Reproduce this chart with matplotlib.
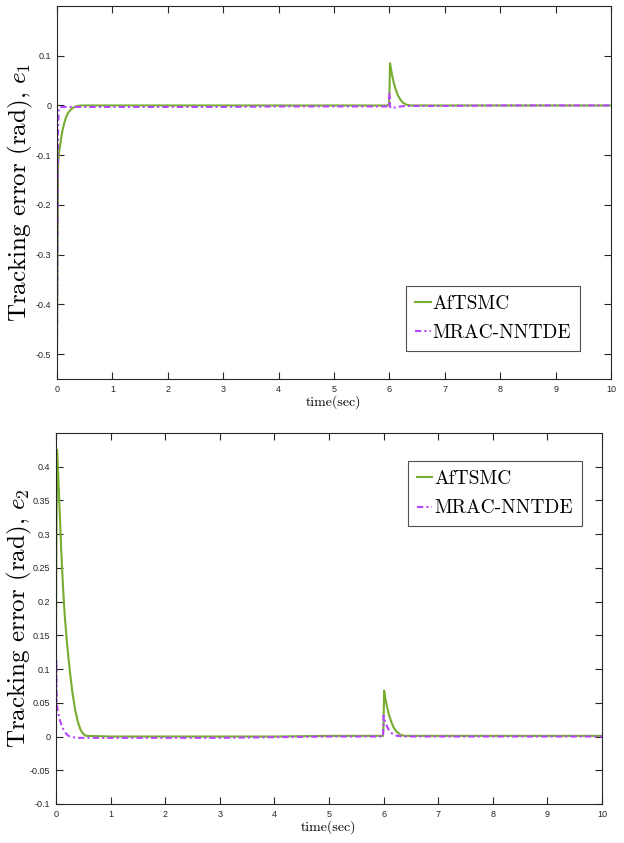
import matplotlib
matplotlib.use("Agg")
import matplotlib.pyplot as plt

plt.rcParams['axes.unicode_minus'] = False
plt.rcParams['mathtext.fontset'] = 'cm'

# e1 curves
t1_af = [0, 0.01, 0.02, 0.03, 0.05, 0.08, 0.1, 0.13, 0.16, 0.2, 0.25, 0.3, 0.36, 0.45,
         1, 2, 3, 4, 5, 5.99, 6.0, 6.01, 6.03, 6.05, 6.08, 6.11, 6.15, 6.2, 6.25, 6.32, 6.4, 7, 8, 9, 10]
e1_af = [-0.5, -0.3, -0.12, -0.1, -0.085, -0.062, -0.05, -0.036, -0.025, -0.015, -0.008, -0.004, -0.001, 0,
         0, 0, 0, 0, 0, 0, 0.02, 0.085, 0.072, 0.06, 0.045, 0.033, 0.021, 0.011, 0.005, 0.001, 0, 0, 0, 0, 0]
t1_mr = [0, 0.01, 0.02, 0.03, 0.05, 0.1, 1, 2, 3, 4, 5, 5.99, 6.0, 6.01, 6.03, 6.06, 6.1, 6.2, 6.3, 7, 8, 9, 10]
e1_mr = [-0.5, -0.25, -0.05, -0.01, -0.003, -0.003, -0.003, -0.003, -0.003, -0.002, -0.002, -0.002, 0.024, -0.002,
         -0.006, -0.005, -0.004, -0.002, -0.001, -0.001, 0, 0, 0]

# e2 curves
t2_af = [0, 0.005, 0.02, 0.04, 0.07, 0.1, 0.13, 0.16, 0.2, 0.25, 0.3, 0.35, 0.4, 0.45, 0.5, 0.55,
         1, 2, 3, 4, 5, 5.99, 6.0, 6.01, 6.03, 6.06, 6.1, 6.14, 6.18, 6.23, 6.3, 6.38, 7, 8, 9, 10]
e2_af = [0.1, 0.25, 0.425, 0.39, 0.33, 0.27, 0.22, 0.18, 0.14, 0.1, 0.066, 0.04, 0.022, 0.01, 0.004, 0.001,
         0, 0, 0, 0, 0.001, 0.001, 0.02, 0.068, 0.058, 0.045, 0.032, 0.022, 0.014, 0.008, 0.003, 0.001, 0.001, 0.001, 0.001, 0.001]
t2_mr = [0, 0.005, 0.01, 0.02, 0.03, 0.05, 0.08, 0.12, 0.16, 0.2, 0.25, 0.3, 0.4, 0.5,
         1, 2, 3, 4, 5, 5.99, 6.0, 6.01, 6.04, 6.08, 6.12, 6.18, 6.25, 6.35, 7, 8, 9, 10]
e2_mr = [0.01, 0.115, 0.07, 0.045, 0.04, 0.032, 0.022, 0.013, 0.007, 0.003, 0.0, -0.001, -0.002, -0.002,
         -0.002, -0.002, -0.002, -0.001, 0, 0, 0.031, 0.026, 0.019, 0.012, 0.007, 0.003, 0.001, 0, 0, 0, 0, 0]

xticks = list(range(0, 11))
yticks_top = [-0.5, -0.4, -0.3, -0.2, -0.1, 0, 0.1]
yticks_bot = [-0.1, -0.05, 0, 0.05, 0.1, 0.15, 0.2, 0.25, 0.3, 0.35, 0.4]

green = '#77ac30'
purple = '#b845ff'
serif = 'cmr10'
tickfont = ['Liberation Sans Narrow', 'Liberation Sans', 'DejaVu Sans']

fig = plt.figure(figsize=(6.24, 8.43), dpi=100)
ax1 = fig.add_axes([0.0913, 0.5504, 0.888, 0.4425])
ax2 = fig.add_axes([0.0897, 0.0463, 0.875, 0.4400])


def style(ax, yticks, ylim, ylab, label_x, leg_loc, leg_anchor):
    ax.set_xlim(0, 10)
    ax.set_ylim(*ylim)
    ax.set_xticks(xticks)
    ax.set_yticks(yticks)
    ax.set_xticklabels([str(v) for v in xticks])
    ax.set_yticklabels(['%g' % v for v in yticks])
    ax.tick_params(direction='in', top=True, right=True, length=5, width=0.8,
                   labelsize=6.5, pad=4, colors='#262626')
    for lbl in ax.get_xticklabels() + ax.get_yticklabels():
        lbl.set_family(tickfont)
    for s in ax.spines.values():
        s.set_color('#262626')
        s.set_linewidth(0.8)
    ax.set_xlabel('time(sec)', family=serif, fontsize=10, labelpad=1)
    ax.set_ylabel(ylab, family=serif, fontsize=18)
    ax.yaxis.set_label_coords(label_x, 0.5)
    leg = ax.legend(prop={'family': serif, 'size': 14}, fancybox=False, edgecolor='#262626',
                    handlelength=0.8, handletextpad=0.1, borderpad=0.45, labelspacing=0.6,
                    borderaxespad=0, loc=leg_loc, bbox_to_anchor=leg_anchor)
    leg.get_frame().set_linewidth(0.8)


ax1.plot(t1_af, e1_af, color=green, lw=1.5, label='AfTSMC')
ax1.plot(t1_mr, e1_mr, color=purple, lw=1.5, dashes=(3, 1.5, 1, 1.5), label='MRAC-NNTDE')
style(ax1, yticks_top, (-0.55, 0.2), 'Tracking error (rad), $e_1$', -0.04,
      'lower right', (0.944, 0.075))

ax2.plot(t2_af, e2_af, color=green, lw=1.5, label='AfTSMC')
ax2.plot(t2_mr, e2_mr, color=purple, lw=1.5, dashes=(3, 1.5, 1, 1.5), label='MRAC-NNTDE')
style(ax2, yticks_bot, (-0.1, 0.45), 'Tracking error (rad), $e_2$', -0.04,
      'upper right', (0.963, 0.9245))

fig.savefig('out.png', dpi=100)
